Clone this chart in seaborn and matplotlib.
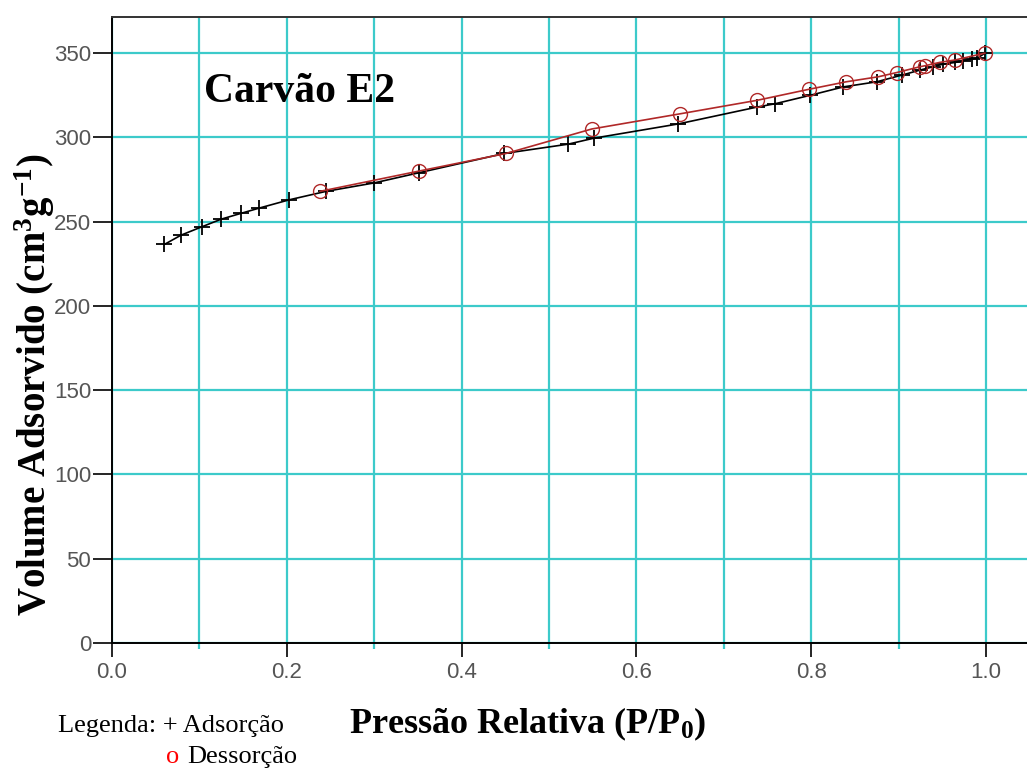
import numpy as np
import seaborn as sns
import matplotlib.pyplot as plt
from matplotlib.ticker import MultipleLocator

# Adsorption branch (+)
ADS_P = [0.060, 0.079, 0.103, 0.125, 0.148, 0.168, 0.203, 0.245, 0.300, 0.351,
         0.449, 0.522, 0.551, 0.648, 0.738, 0.759, 0.799, 0.837, 0.875, 0.904,
         0.925, 0.940, 0.951, 0.965, 0.974, 0.984, 0.990, 0.999]
ADS_V = [236.5, 242.0, 247.0, 251.5, 255.0, 258.0, 263.0, 268.0, 273.0, 279.0,
         290.5, 296.0, 299.5, 308.0, 318.0, 320.0, 325.0, 330.0, 333.0, 337.0,
         340.0, 342.0, 343.5, 344.5, 345.5, 346.5, 347.0, 350.0]

# Desorption branch (o)
DES_P = [0.999, 0.965, 0.947, 0.930, 0.925, 0.898, 0.877, 0.840, 0.797, 0.738,
         0.650, 0.549, 0.451, 0.351, 0.238]
DES_V = [350.0, 346.0, 344.5, 342.5, 342.0, 338.5, 336.0, 333.0, 328.5, 322.0,
         314.0, 305.0, 290.5, 280.0, 268.0]

X_TICKS = [0.0, 0.2, 0.4, 0.6, 0.8, 1.0]
Y_TICKS = [0, 50, 100, 150, 200, 250, 300, 350]

GRID = '#3ccaca'
RED = '#b02828'

sns.set_style('white')
plt.rcParams['font.family'] = ['Liberation Sans', 'DejaVu Sans']
plt.rcParams['text.color'] = 'black'
plt.rcParams['mathtext.fontset'] = 'custom'
plt.rcParams['mathtext.rm'] = 'Liberation Serif'
plt.rcParams['mathtext.bf'] = 'Liberation Serif:bold'
plt.rcParams['mathtext.it'] = 'Liberation Serif:italic'

fig = plt.figure(figsize=(10.27, 7.69), dpi=100)
ax = fig.add_axes([0.109, 0.1638, 0.891, 0.8142])

sns.lineplot(x=ADS_P, y=ADS_V, ax=ax, sort=False, color='black', lw=1.2,
             marker='+', markersize=11, markeredgewidth=1.3,
             markeredgecolor='black')
sns.lineplot(x=DES_P, y=DES_V, ax=ax, sort=False, color=RED, lw=1.2,
             marker='o', markersize=10, markerfacecolor='none',
             markeredgecolor=RED, markeredgewidth=1.0)

ax.set_xlim(0, 1.047)
ax.set_ylim(0, 371.5)
ax.set_xticks(X_TICKS)
ax.set_xticklabels([f'{t:.1f}' for t in X_TICKS])
ax.set_yticks(Y_TICKS)
ax.xaxis.set_minor_locator(MultipleLocator(0.1))

ax.grid(True, which='both', axis='x', color=GRID, lw=1.6)
ax.grid(True, which='major', axis='y', color=GRID, lw=1.6)
ax.set_axisbelow(True)

ax.tick_params(axis='both', which='major', direction='out', width=1.2,
               color='black', labelsize=16, labelcolor='#555555',
               bottom=True, left=True)
ax.tick_params(axis='y', which='major', length=14, pad=1)
ax.tick_params(axis='x', which='major', length=10, pad=4)
ax.tick_params(axis='x', which='minor', direction='out', length=4,
               width=1.6, color=GRID, bottom=True)

for side in ['left', 'bottom', 'top']:
    ax.spines[side].set_color('black')
    ax.spines[side].set_linewidth(1.4)
ax.spines['top'].set_color('#333333')
ax.spines['right'].set_visible(False)

serif = ['Liberation Serif', 'DejaVu Serif']
fig.text(35 / 1027, 1 - 385 / 769,
         'Volume Adsorvido (cm$^{\\mathbf{3}}$g$^{\\mathbf{-1}}$)',
         family=serif, fontsize=28, fontweight='bold', rotation=90,
         ha='center', va='center', color='black')
fig.text(528 / 1027, 1 - 733 / 769,
         'Pressão Relativa (P/P$_{\\mathbf{0}}$)', family=serif,
         fontsize=26, fontweight='bold', ha='center', va='baseline',
         color='black')
ax.text(0.105, 327, 'Carvão E2', family=serif, fontsize=30,
        fontweight='bold', ha='left', va='center', color='black')

fig.text(58 / 1027, 1 - 732 / 769, 'Legenda: + Adsorção', family=serif,
         fontsize=19, ha='left', va='baseline', color='black')
fig.text(166 / 1027, 1 - 763 / 769, 'o', family=serif, fontsize=19,
         color='red', ha='left', va='baseline')
fig.text(187 / 1027, 1 - 763 / 769, 'Dessorção', family=serif, fontsize=19,
         ha='left', va='baseline', color='black')

fig.savefig('out.png', dpi=100)
